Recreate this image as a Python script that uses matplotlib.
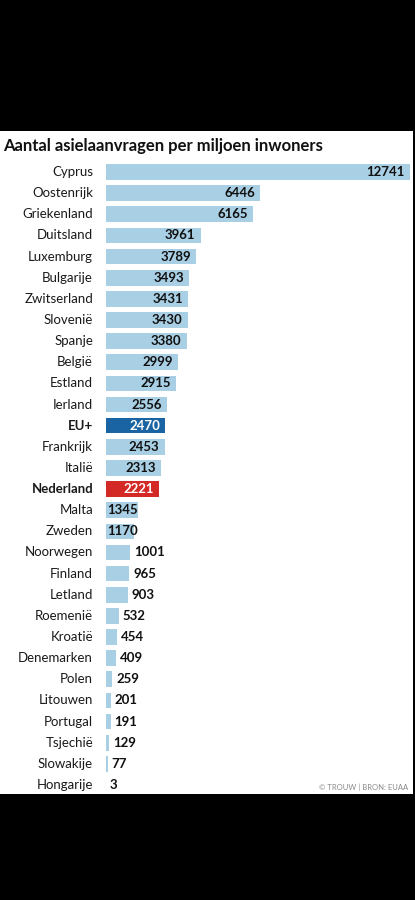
import matplotlib
matplotlib.use("Agg")
import matplotlib.pyplot as plt

# --- data ---
countries = ["Cyprus", "Oostenrijk", "Griekenland", "Duitsland", "Luxemburg", "Bulgarije",
             "Zwitserland", "Slovenië", "Spanje", "België", "Estland", "Ierland", "EU+",
             "Frankrijk", "Italië", "Nederland", "Malta", "Zweden", "Noorwegen", "Finland",
             "Letland", "Roemenië", "Kroatië", "Denemarken", "Polen", "Litouwen", "Portugal",
             "Tsjechië", "Slowakije", "Hongarije"]
values = [12741, 6446, 6165, 3961, 3789, 3493, 3431, 3430, 3380, 2999, 2915, 2556, 2470,
          2453, 2313, 2221, 1345, 1170, 1001, 965, 903, 532, 454, 409, 259, 201, 191, 129, 77, 3]
highlight = {"EU+": "#1a64a3", "Nederland": "#d42a27"}

TITLE = "Aantal asielaanvragen per miljoen inwoners"
SOURCE = "© TROUW | BRON: EUAA"

BAR_COLOR = "#a9cfe4"
FONT = "Lato"

W, H = 415, 900
fig = plt.figure(figsize=(W / 100, H / 100), dpi=100)
fig.patch.set_facecolor("black")

# white panel as a background axes
panel_top, panel_bot = 131, 794
bg = fig.add_axes([0, 1 - panel_bot / H, 413 / W, (panel_bot - panel_top) / H], zorder=0)
bg.set_facecolor("white")
bg.set_xticks([]); bg.set_yticks([])
for s in bg.spines.values():
    s.set_visible(False)

n = len(countries)
row0, rowN = 172, 785
step = (rowN - row0) / (n - 1)
ax_top = row0 - step / 2
ax_bot = rowN + step / 2
x0, x1 = 106, 410
ax = fig.add_axes([x0 / W, 1 - ax_bot / H, (x1 - x0) / W, (ax_bot - ax_top) / H], zorder=1)
ax.patch.set_alpha(0)

ypos = list(range(n))
colors = [highlight.get(c, BAR_COLOR) for c in countries]
ax.barh(ypos, values, height=0.74, color=colors, zorder=2)
ax.set_xlim(0, max(values))
ax.set_ylim(n - 0.5, -0.5)
ax.axis("off")

px = max(values) / (x1 - x0)  # data units per pixel
for i, (c, v) in enumerate(zip(countries, values)):
    bold = c in highlight
    ax.text(-13 * px, i, c, ha="right", va="center", fontsize=9.5,
            family=FONT, fontweight="bold" if bold else "normal", color="#1a1a1a")
    txt_color = "white" if bold else "#111111"
    bar_px = v / px
    if bar_px > 40:
        ax.text(v - 5 * px, i, str(v), ha="right", va="center", fontsize=9.5,
                family=FONT, fontweight="bold", color=txt_color)
    elif v >= 1100:
        ax.text(1 * px, i, str(v), ha="left", va="center", fontsize=9.5,
                family=FONT, fontweight="bold", color=txt_color)
    else:
        ax.text(v + 4 * px, i, str(v), ha="left", va="center", fontsize=9.5,
                family=FONT, fontweight="bold", color=txt_color)

fig.text(3 / W, 1 - 146 / H, TITLE, ha="left", va="center", fontsize=12,
         family=FONT, fontweight="bold", color="#111111", zorder=3)
fig.text(408 / W, 1 - 787 / H, SOURCE, ha="right", va="center", fontsize=5.5,
         family=FONT, color="#8a8a8a", zorder=3)

fig.savefig("out.png", dpi=100, facecolor="black")
